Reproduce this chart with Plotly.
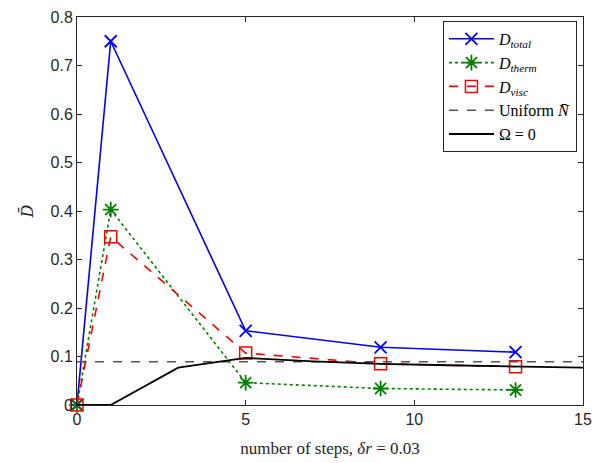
import plotly.graph_objects as go

steps = [0, 1, 5, 9, 13]
d_total = [0.0, 0.750, 0.153, 0.119, 0.109]
d_therm = [0.0, 0.403, 0.046, 0.034, 0.031]
d_visc = [0.0, 0.347, 0.107, 0.085, 0.079]

uniform_x = [0, 15]
uniform_y = [0.089, 0.089]

omega_x = [0, 1, 3, 5, 7, 9, 11, 13, 15]
omega_y = [0.0, 0.0, 0.077, 0.097, 0.090, 0.085, 0.082, 0.079, 0.077]

xticks = [0, 5, 10, 15]
yticks = [0, 0.1, 0.2, 0.3, 0.4, 0.5, 0.6, 0.7, 0.8]
ytick_labels = ["0", "0.1", "0.2", "0.3", "0.4", "0.5", "0.6", "0.7", "0.8"]

fig = go.Figure()
fig.add_trace(go.Scatter(
    x=steps, y=d_total, mode="lines+markers",
    name="<i>D</i><sub><i>total</i></sub>",
    line=dict(color="#0000ff", width=1.6),
    marker=dict(symbol="x-thin-open", size=12, line=dict(color="#0000ff", width=1.8)),
    cliponaxis=False,
))
fig.add_trace(go.Scatter(
    x=steps, y=d_therm, mode="lines+markers",
    name="<i>D</i><sub><i>therm</i></sub>",
    line=dict(color="#008000", width=1.6, dash="dot"),
    marker=dict(symbol="asterisk-open", size=13, line=dict(color="#008000", width=1.8)),
    cliponaxis=False,
))
fig.add_trace(go.Scatter(
    x=steps, y=d_visc, mode="lines+markers",
    name="<i>D</i><sub><i>visc</i></sub>",
    line=dict(color="#ff0000", width=1.6, dash="dash"),
    marker=dict(symbol="square-open", size=12, line=dict(color="#ff0000", width=1.5)),
    cliponaxis=False,
))
fig.add_trace(go.Scatter(
    x=uniform_x, y=uniform_y, mode="lines",
    name="Uniform <i>N̄</i>",
    line=dict(color="#555555", width=1.5, dash="dash"),
))
fig.add_trace(go.Scatter(
    x=omega_x, y=omega_y, mode="lines",
    name="Ω = 0",
    line=dict(color="#000000", width=1.8),
))

axis_common = dict(
    showline=True, linecolor="#262626", linewidth=1, mirror="ticks",
    ticks="inside", ticklen=5, tickcolor="#262626",
    showgrid=False, zeroline=False, ticklabeloverflow="allow",
    tickfont=dict(family="Liberation Sans, Arial", size=16, color="#262626"),
)

fig.update_layout(
    width=613, height=463,
    margin=dict(l=77, r=30, t=9, b=58),
    paper_bgcolor="white", plot_bgcolor="white",
    showlegend=True,
    legend=dict(
        x=0.988, y=0.99, xanchor="right", yanchor="top",
        bordercolor="#262626", borderwidth=1, bgcolor="white",
        font=dict(family="Liberation Serif, Times New Roman", size=16, color="black"),
        tracegroupgap=0, itemwidth=45,
    ),
    xaxis=dict(
        range=[0, 15], tickvals=xticks,
        title=dict(text="number of steps, <i>δr</i> = 0.03",
                   font=dict(family="Liberation Serif, Times New Roman", size=17, color="#262626"),
                   standoff=14),
        **axis_common,
    ),
    yaxis=dict(
        range=[0, 0.8], tickvals=yticks, ticktext=ytick_labels,
        title=dict(text="<i>D̄</i>",
                   font=dict(family="DejaVu Serif, Liberation Serif", size=16, color="#262626"),
                   standoff=12),
        **axis_common,
    ),
)

fig.write_html("out.html", config={"displayModeBar": False},
               post_script="document.body.style.margin='0';document.body.style.overflow='hidden';")
